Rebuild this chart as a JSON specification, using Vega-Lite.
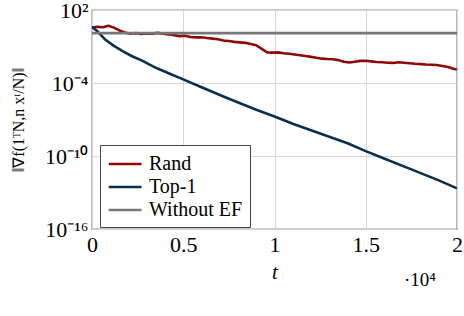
{
  "$schema": "https://vega.github.io/schema/vega-lite/v6.json",
  "width": 365,
  "height": 219,
  "autosize": {"type": "none"},
  "padding": {"left": 92, "top": 10, "right": 7, "bottom": 87},
  "background": "white",
  "title": {
    "text": "·10⁴",
    "orient": "bottom",
    "anchor": "end",
    "frame": "group",
    "font": "Liberation Serif",
    "fontSize": 19,
    "fontWeight": "normal",
    "color": "black",
    "dx": -21,
    "offset": -11
  },
  "config": {
    "view": {"stroke": "#222", "strokeWidth": 1.2},
    "font": "Liberation Serif",
    "axis": {
      "labelFont": "Liberation Serif",
      "titleFont": "Liberation Serif",
      "labelColor": "black",
      "titleColor": "black",
      "domain": false,
      "ticks": false,
      "gridColor": "#d6d6d6",
      "gridWidth": 1,
      "titleFontWeight": "normal"
    }
  },
  "data": {
    "values": [
      {"t": 0, "v": 3.55, "s": "Rand"},
      {"t": 300, "v": 4.17, "s": "Rand"},
      {"t": 600, "v": 3.80, "s": "Rand"},
      {"t": 900, "v": 5.01, "s": "Rand"},
      {"t": 1200, "v": 3.55, "s": "Rand"},
      {"t": 1500, "v": 2.09, "s": "Rand"},
      {"t": 1800, "v": 1.41, "s": "Rand"},
      {"t": 2100, "v": 1.12, "s": "Rand"},
      {"t": 2400, "v": 1.26, "s": "Rand"},
      {"t": 2700, "v": 1.05, "s": "Rand"},
      {"t": 3000, "v": 1.20, "s": "Rand"},
      {"t": 3300, "v": 1.15, "s": "Rand"},
      {"t": 3600, "v": 1.32, "s": "Rand"},
      {"t": 3900, "v": 1.10, "s": "Rand"},
      {"t": 4200, "v": 1.00, "s": "Rand"},
      {"t": 4500, "v": 0.832, "s": "Rand"},
      {"t": 4800, "v": 0.708, "s": "Rand"},
      {"t": 5100, "v": 0.759, "s": "Rand"},
      {"t": 5400, "v": 0.603, "s": "Rand"},
      {"t": 5700, "v": 0.562, "s": "Rand"},
      {"t": 6000, "v": 0.575, "s": "Rand"},
      {"t": 6300, "v": 0.501, "s": "Rand"},
      {"t": 6600, "v": 0.447, "s": "Rand"},
      {"t": 6900, "v": 0.398, "s": "Rand"},
      {"t": 7200, "v": 0.316, "s": "Rand"},
      {"t": 7500, "v": 0.282, "s": "Rand"},
      {"t": 7800, "v": 0.240, "s": "Rand"},
      {"t": 8100, "v": 0.219, "s": "Rand"},
      {"t": 8400, "v": 0.200, "s": "Rand"},
      {"t": 8700, "v": 0.158, "s": "Rand"},
      {"t": 9000, "v": 0.126, "s": "Rand"},
      {"t": 9300, "v": 0.0631, "s": "Rand"},
      {"t": 9600, "v": 0.0331, "s": "Rand"},
      {"t": 9900, "v": 0.0316, "s": "Rand"},
      {"t": 10200, "v": 0.0331, "s": "Rand"},
      {"t": 10500, "v": 0.0282, "s": "Rand"},
      {"t": 10800, "v": 0.0251, "s": "Rand"},
      {"t": 11100, "v": 0.0219, "s": "Rand"},
      {"t": 11400, "v": 0.0191, "s": "Rand"},
      {"t": 11700, "v": 0.0166, "s": "Rand"},
      {"t": 12000, "v": 0.0141, "s": "Rand"},
      {"t": 12300, "v": 0.0117, "s": "Rand"},
      {"t": 12600, "v": 0.0100, "s": "Rand"},
      {"t": 12900, "v": 0.0093, "s": "Rand"},
      {"t": 13200, "v": 0.0089, "s": "Rand"},
      {"t": 13500, "v": 0.00759, "s": "Rand"},
      {"t": 13800, "v": 0.00562, "s": "Rand"},
      {"t": 14100, "v": 0.00479, "s": "Rand"},
      {"t": 14400, "v": 0.00550, "s": "Rand"},
      {"t": 14700, "v": 0.00661, "s": "Rand"},
      {"t": 15000, "v": 0.00676, "s": "Rand"},
      {"t": 15300, "v": 0.00603, "s": "Rand"},
      {"t": 15600, "v": 0.00537, "s": "Rand"},
      {"t": 15900, "v": 0.00501, "s": "Rand"},
      {"t": 16200, "v": 0.00468, "s": "Rand"},
      {"t": 16500, "v": 0.00447, "s": "Rand"},
      {"t": 16800, "v": 0.00501, "s": "Rand"},
      {"t": 17100, "v": 0.00468, "s": "Rand"},
      {"t": 17400, "v": 0.00417, "s": "Rand"},
      {"t": 17700, "v": 0.00380, "s": "Rand"},
      {"t": 18000, "v": 0.00355, "s": "Rand"},
      {"t": 18300, "v": 0.00331, "s": "Rand"},
      {"t": 18600, "v": 0.00316, "s": "Rand"},
      {"t": 18900, "v": 0.00302, "s": "Rand"},
      {"t": 19200, "v": 0.00251, "s": "Rand"},
      {"t": 19500, "v": 0.00209, "s": "Rand"},
      {"t": 19800, "v": 0.00151, "s": "Rand"},
      {"t": 20000, "v": 0.00126, "s": "Rand"},
      {"t": 0, "v": 3.98, "s": "Top-1"},
      {"t": 300, "v": 1.78, "s": "Top-1"},
      {"t": 700, "v": 0.398, "s": "Top-1"},
      {"t": 1200, "v": 0.112, "s": "Top-1"},
      {"t": 1700, "v": 0.0398, "s": "Top-1"},
      {"t": 2200, "v": 0.0158, "s": "Top-1"},
      {"t": 2800, "v": 0.00631, "s": "Top-1"},
      {"t": 3500, "v": 0.00178, "s": "Top-1"},
      {"t": 4200, "v": 0.000631, "s": "Top-1"},
      {"t": 5000, "v": 0.0002, "s": "Top-1"},
      {"t": 6000, "v": 4.47e-5, "s": "Top-1"},
      {"t": 7500, "v": 5.01e-6, "s": "Top-1"},
      {"t": 9000, "v": 6.31e-7, "s": "Top-1"},
      {"t": 10000, "v": 1.78e-7, "s": "Top-1"},
      {"t": 11000, "v": 4.47e-8, "s": "Top-1"},
      {"t": 12500, "v": 7.08e-9, "s": "Top-1"},
      {"t": 14000, "v": 1.12e-9, "s": "Top-1"},
      {"t": 15000, "v": 2.51e-10, "s": "Top-1"},
      {"t": 16000, "v": 6.31e-11, "s": "Top-1"},
      {"t": 17500, "v": 7.94e-12, "s": "Top-1"},
      {"t": 19000, "v": 1e-12, "s": "Top-1"},
      {"t": 20000, "v": 2.2e-13, "s": "Top-1"},
      {"t": 0, "v": 1.25, "s": "Without EF"},
      {"t": 20000, "v": 1.25, "s": "Without EF"}
    ]
  },
  "mark": {"type": "line", "strokeJoin": "round", "strokeCap": "butt", "clip": true},
  "encoding": {
    "x": {
      "field": "t",
      "type": "quantitative",
      "scale": {"domain": [0, 20000], "nice": false},
      "axis": {
        "values": [0, 5000, 10000, 15000, 20000],
        "labelExpr": "datum.value / 10000 + ''",
        "labelFontSize": 22,
        "labelFlush": false,
        "labelOverlap": false,
        "labelPadding": 5,
        "title": "t",
        "titleFontStyle": "italic",
        "titleFontSize": 21,
        "titlePadding": 6
      }
    },
    "y": {
      "field": "v",
      "type": "quantitative",
      "scale": {"type": "log", "domain": [1e-16, 100], "nice": false},
      "axis": {
        "values": [1e-16, 1e-10, 1e-4, 100],
        "labelExpr": "datum.value >= 10 ? '10²' : datum.value > 1e-5 ? '10⁻⁴' : datum.value > 1e-11 ? '10⁻¹⁰' : '10⁻¹⁶'",
        "labelFontSize": 22,
        "labelPadding": 4,
        "labelBaseline": "alphabetic",
        "labelOffset": 7,
        "labelFlush": false,
        "labelOverlap": false,
        "title": "‖∇f(1ᵀN,n xᵗ/N)‖",
        "titleFontSize": 16,
        "titlePadding": 18
      }
    },
    "color": {
      "field": "s",
      "type": "nominal",
      "sort": ["Rand", "Top-1", "Without EF"],
      "scale": {"domain": ["Rand", "Top-1", "Without EF"], "range": ["#8c0a0a", "#0b2f4d", "#777777"]},
      "legend": {
        "title": null,
        "orient": "none",
        "legendX": 8,
        "legendY": 135,
        "fillColor": "white",
        "strokeColor": "#444",
        "padding": 7,
        "symbolType": "M-1,0H2.2",
        "symbolStrokeWidth": 3,
        "symbolSize": 420,
        "labelFont": "Liberation Serif",
        "labelFontSize": 20,
        "labelColor": "black",
        "labelOffset": 18,
        "rowPadding": 1
      }
    },
    "strokeWidth": {
      "field": "s",
      "type": "nominal",
      "scale": {"domain": ["Rand", "Top-1", "Without EF"], "range": [2.6, 2.6, 3.3]},
      "legend": null
    }
  }
}
